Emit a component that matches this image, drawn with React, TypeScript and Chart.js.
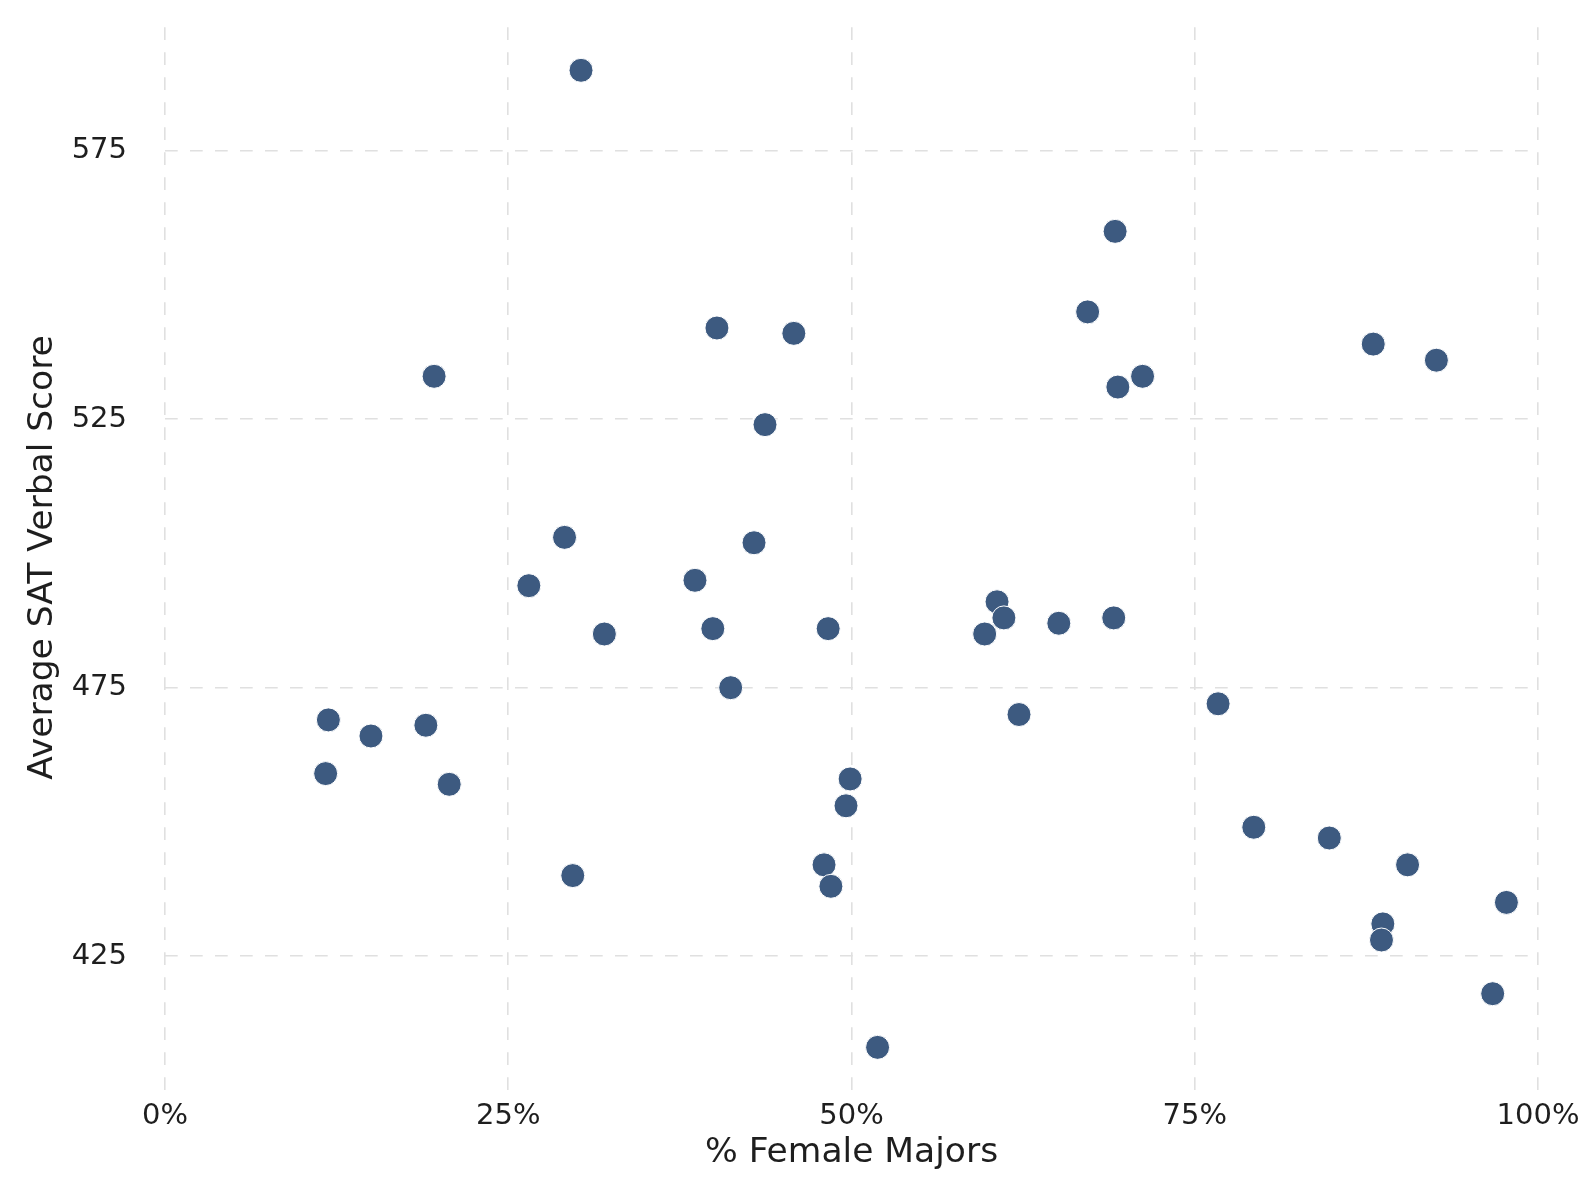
import React, { useEffect, useRef } from "react";
import { Chart, registerables } from "chart.js";

Chart.register(...registerables);

const pctFemale: number[] = [
  30.3, 69.2, 67.2, 40.2, 45.8, 88.0, 92.6, 19.6, 71.2, 69.4,
  43.7, 29.1, 42.9, 26.5, 38.6, 60.6, 61.1, 65.1, 69.1, 32.0,
  39.9, 48.3, 59.7, 41.2, 76.7, 62.2, 11.9, 15.0, 19.0, 11.7,
  20.7, 49.9, 49.6, 79.3, 84.8, 48.0, 90.5, 29.7, 48.5, 97.7,
  88.7, 88.6, 96.7, 51.9,
];
const satVerbal: number[] = [
  590, 560, 545, 542, 541, 539, 536, 533, 533, 531,
  524, 503, 502, 494, 495, 491, 488, 487, 488, 485,
  486, 486, 485, 475, 472, 470, 469, 466, 468, 459,
  457, 458, 453, 449, 447, 442, 442, 440, 438, 435,
  431, 428, 418, 408,
];
const xTicks: number[] = [0, 25, 50, 75, 100];
const yTicks: number[] = [425, 475, 525, 575];
const xTitle = "% Female Majors";
const yTitle = "Average SAT Verbal Score";

export default function App() {
  const ref = useRef<HTMLCanvasElement | null>(null);
  useEffect(() => {
    if (!ref.current) return;
    const points = pctFemale.map((x, i) => ({ x, y: satVerbal[i] }));
    const font = "'DejaVu Sans', sans-serif";
    const zeroPad = (s: any) => {
      s.paddingTop = 0;
      s.paddingBottom = 0;
      s.paddingLeft = 0;
      s.paddingRight = 0;
    };
    const chart = new Chart(ref.current, {
      type: "scatter",
      data: {
        datasets: [
          {
            data: points,
            backgroundColor: "#3d5a80",
            borderColor: "#ffffff",
            borderWidth: 1,
            pointRadius: 12,
          },
        ],
      },
      options: {
        animation: false,
        responsive: false,
        layout: { padding: { top: 22, right: 47, bottom: 12, left: 22 } },
        plugins: { legend: { display: false }, tooltip: { enabled: false } },
        scales: {
          x: {
            type: "linear",
            min: 0,
            max: 100,
            border: { display: false, dash: [12.7, 12.3], dashOffset: 19.7 },
            grid: {
              color: "#e0e0e0",
              lineWidth: 1.6,
              drawTicks: false,
            },
            ticks: {
              padding: 6,
              color: "#1e1e1e",
              font: { family: font, size: 29 },
              callback: (v: any) => `${v}%`,
            },
            afterBuildTicks: (s: any) => {
              s.ticks = xTicks.map((v) => ({ value: v }));
            },
            afterFit: (s: any) => {
              s.height = 81;
              zeroPad(s);
            },
            title: {
              display: true,
              text: xTitle,
              color: "#1e1e1e",
              font: { family: font, size: 34.5 },
              padding: 0,
            },
          },
          y: {
            type: "linear",
            min: 399.5,
            max: 599.0,
            border: { display: false, dash: [12.7, 12.3], dashOffset: 0 },
            grid: {
              color: "#e0e0e0",
              lineWidth: 1.6,
              drawTicks: false,
            },
            ticks: {
              padding: 38,
              color: "#1e1e1e",
              font: { family: font, size: 29 },
            },
            afterBuildTicks: (s: any) => {
              s.ticks = yTicks.map((v) => ({ value: v }));
            },
            afterFit: (s: any) => {
              s.width = 143;
              zeroPad(s);
            },
            title: {
              display: true,
              text: yTitle,
              color: "#1e1e1e",
              font: { family: font, size: 34.5 },
              padding: 0,
            },
          },
        },
      },
    } as any);
    return () => chart.destroy();
  }, []);
  return (
    <canvas
      ref={ref}
      width={1585}
      height={1186}
      style={{ position: "absolute", left: 0, top: 0, width: 1585, height: 1186, background: "#ffffff" }}
    />
  );
}
